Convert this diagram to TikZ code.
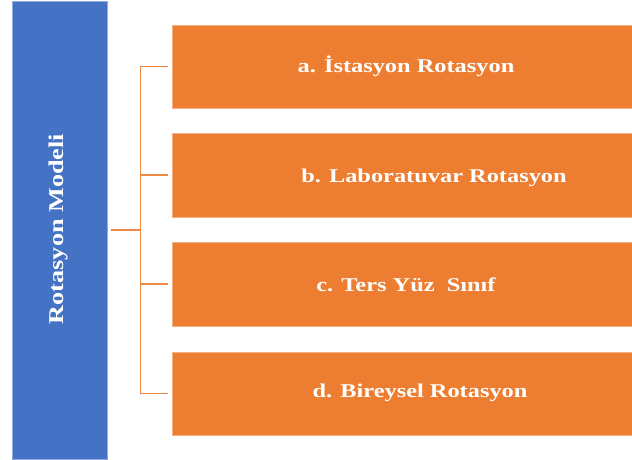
\documentclass[tikz,border=0pt]{standalone}
\usepackage{fontspec}
\newfontfamily\tnr[FakeStretch=1.25]{Liberation Serif}
\definecolor{rootblue}{HTML}{4472C4}
\definecolor{boxorange}{HTML}{ED7D31}
\begin{document}
\begin{tikzpicture}[x=1pt,y=-1pt,
  rootbox/.style={fill=rootblue,draw=rootblue!60!white,line width=0.6pt,inner sep=0pt},
  itembox/.style={fill=boxorange,draw=boxorange!60!white,line width=0.6pt,inner sep=0pt},
  itemtext/.style={text=white,font=\tnr\bfseries\fontsize{19.5}{22}\selectfont,inner sep=0pt},
  conn/.style={draw=boxorange!90!white,line width=1.6pt}]
\useasboundingbox (0,0) rectangle (632,459);
\fill[white] (0,0) rectangle (632,459);
% root
\node[rootbox,minimum width=95pt,minimum height=458pt] (root) at (59.5,230) {};
\node[text=white,font=\tnr\bfseries\fontsize{21}{24}\selectfont,rotate=90,inner sep=0pt] (roottext) at (58,229) {Rotasyon Modeli};
% items
\node[itembox,minimum width=460pt,minimum height=83pt] (b1) at (402,66.5) {};
\node[itembox,minimum width=460pt,minimum height=84pt] (b2) at (402,175) {};
\node[itembox,minimum width=460pt,minimum height=84pt] (b3) at (402,284) {};
\node[itembox,minimum width=460pt,minimum height=83pt] (b4) at (402,393.5) {};
\node[itemtext] (t1) at (406,66.5) {a. İstasyon Rotasyon};
\node[itemtext] (t2) at (434,178) {b. Laboratuvar Rotasyon};
\node[itemtext] (t3) at (406,285) {c. Ters Yüz\ \ Sınıf};
\node[itemtext] (t4) at (420,393) {d. Bireysel Rotasyon};
% connectors
\coordinate (spine) at (140.5,230);
\draw[conn] ([xshift=4pt]root.east) -- (spine);
\draw[conn] ([xshift=-4pt]b1.west) -- (spine |- b1.west) -- (spine |- b4.west) -- ([xshift=-4pt]b4.west);
\draw[conn] (spine |- b2.west) -- ([xshift=-4pt]b2.west);
\draw[conn] (spine |- b3.west) -- ([xshift=-4pt]b3.west);
\end{tikzpicture}
\end{document}
